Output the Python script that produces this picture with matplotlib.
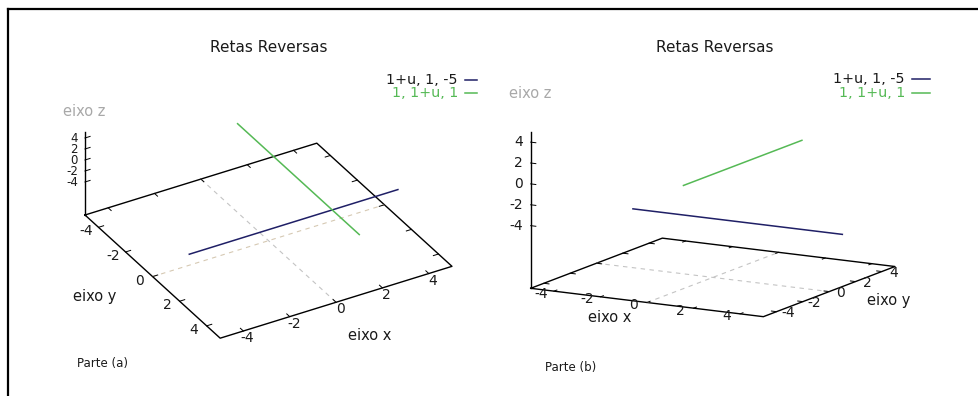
import numpy as np
import matplotlib
matplotlib.use("Agg")
import matplotlib.pyplot as plt
from matplotlib.lines import Line2D

plt.rcParams['font.family'] = ['DejaVu Sans']

# --- chart data (gnuplot style parametric lines) ---
TITLE = "Retas Reversas"
X_RANGE = (-5, 5)
Y_RANGE = (-5, 5)
Z_RANGE = (-5, 5)
TICSLEVEL = 0.5
X_TICKS = [-4, -2, 0, 2, 4]
Y_TICKS = [-4, -2, 0, 2, 4]
Z_TICKS = [-4, -2, 0, 2, 4]
U_RANGE = (-5, 5)

# line = point + u * direction
LINE1_LABEL = "1+u, 1, -5"
LINE1_POINT = [1, 1, -5]
LINE1_DIR = [1, 0, 0]
LINE2_LABEL = "1, 1+u, 1"
LINE2_POINT = [1, 1, 1]
LINE2_DIR = [0, 1, 0]

PANEL_NAMES = ["Parte (a)", "Parte (b)"]

# --- styling ---
W, H = 979, 396
BLUE = "#1f1f66"
GREEN = "#55b955"
ZERO_GRAY = "#c4c4c4"
ZERO_TAN = "#d6c9b3"
LABEL_GRAY = "#a8a8a8"
TXT = "#1a1a1a"

# per panel: view, box aspect, where the base corners land (px), label offsets
PANELS = [
    dict(elev=-32.1, azim=-59.75, aspect=(1, 1, 0.363),
         anchor_px=(85, 215), far_px=(451.7, 268.3),
         x_edge="y1", x_off=(-0.12, 0.5), y_edge="x0", y_off=(-0.55, 0.0),
         z_off=(-0.23, -0.13), z_size=8.5, y0_color=ZERO_TAN,
         title=(269, 48), legend=(458, 465, 477, 80, 93),
         zlab=(84.5, 112), xlab=(369.5, 335), ylab=(94.5, 297), part=(77, 363)),
    dict(elev=12.45, azim=-60.5, aspect=(1, 1, 0.6),
         anchor_px=(530.7, 288.3), far_px=(895, 266.7),
         x_edge="y0", x_off=(-0.21, -0.62), y_edge="x1", y_off=(0.49, 0.02),
         z_off=(-0.26, -0.15), z_size=10, y0_color=ZERO_GRAY,
         title=(715, 48), legend=(905, 912, 930, 79, 93),
         zlab=(530, 94), xlab=(610, 318), ylab=(888.5, 301), part=(545, 367)),
]


def clipped_segment(point, direction):
    lo, hi = U_RANGE
    p = np.array(point, float)
    d = np.array(direction, float)
    for k, (a, b) in enumerate([X_RANGE, Y_RANGE, Z_RANGE]):
        if d[k] != 0:
            t1, t2 = sorted(((a - p[k]) / d[k], (b - p[k]) / d[k]))
            lo, hi = max(lo, t1), min(hi, t2)
    u = np.array([lo, hi])
    return p[:, None] + d[:, None] * u


def to_px(ax, pt):
    v = ax.get_proj() @ np.array([pt[0], pt[1], pt[2], 1.0])
    return ax.transData.transform((v[0] / v[3], v[1] / v[3]))


def ftext(x, y, s, **kw):
    kw.setdefault("ha", "center")
    kw.setdefault("va", "center")
    fig.text(x / W, 1 - y / H, s, **kw)


def fline(xs, ys, **kw):
    fig.add_artist(Line2D([x / W for x in xs], [1 - y / H for y in ys],
                          transform=fig.transFigure, **kw))


fig = plt.figure(figsize=(W / 100, H / 100), dpi=100)
fig.patch.set_facecolor("white")

x0, x1 = X_RANGE
y0, y1 = Y_RANGE
z0, z1 = Z_RANGE
zb = z0 - TICSLEVEL * (z1 - z0)
seg1 = clipped_segment(LINE1_POINT, LINE1_DIR)
seg2 = clipped_segment(LINE2_POINT, LINE2_DIR)
tk = 0.22

for i, p in enumerate(PANELS):
    ax = fig.add_axes([i * 0.5, 0, 0.5, 1], projection="3d",
                      proj_type="ortho", computed_zorder=False)
    ax.set_axis_off()
    ax.set_facecolor("none")
    ax.view_init(elev=p["elev"], azim=p["azim"])
    ax.set_xlim(x0, x1)
    ax.set_ylim(y0, y1)
    ax.set_zlim(zb, z1)

    kw = dict(color="black", lw=1.0, clip_on=False)
    # base frame and z axis
    ax.plot([x0, x1, x1, x0, x0], [y0, y0, y1, y1, y0], [zb] * 5, **kw)
    ax.plot([x0, x0], [y0, y0], [zb, z1], **kw)
    # zero axes on the base
    ax.plot([0, 0], [y0, y1], [zb, zb], color=ZERO_GRAY, lw=0.8,
            ls=(0, (4, 4)), clip_on=False)
    ax.plot([x0, x1], [0, 0], [zb, zb], color=p["y0_color"], lw=0.8,
            ls=(0, (4, 4)), clip_on=False)

    # tics (with mirrors)
    tkw = dict(color="black", lw=0.7, clip_on=False)
    for t in X_TICKS:
        ax.plot([t, t], [y0, y0 + tk], [zb, zb], **tkw)
        ax.plot([t, t], [y1, y1 - tk], [zb, zb], **tkw)
    for t in Y_TICKS:
        ax.plot([x0, x0 + tk], [t, t], [zb, zb], **tkw)
        ax.plot([x1, x1 - tk], [t, t], [zb, zb], **tkw)
    for t in Z_TICKS:
        ax.plot([x0, x0 + tk], [y0, y0], [t, t], **tkw)

    # the two lines
    ax.plot(*seg1, color=BLUE, lw=1.1, clip_on=False)
    ax.plot(*seg2, color=GREEN, lw=1.1, clip_on=False)

    # fit the drawn box onto its place in the picture
    ax.set_box_aspect(p["aspect"], zoom=1)
    fig.canvas.draw()
    ta = np.array([p["anchor_px"][0], H - p["anchor_px"][1]])
    tb = np.array([p["far_px"][0], H - p["far_px"][1]])
    a = to_px(ax, (x0, y0, zb))
    b = to_px(ax, (x1, y1, zb))
    zoom = np.linalg.norm(tb - ta) / np.linalg.norm(b - a)
    ax.set_box_aspect(p["aspect"], zoom=zoom)
    fig.canvas.draw()
    a = to_px(ax, (x0, y0, zb))
    pos = ax.get_position(original=True)
    d = ta - a
    ax.set_position([pos.x0 + d[0] / W, pos.y0 + d[1] / H, pos.width, pos.height])
    fig.canvas.draw()

    # tick labels, placed at the projected tic positions
    labels = []
    ykey = y1 if p["x_edge"] == "y1" else y0
    for t in X_TICKS:
        labels.append(((t + p["x_off"][0], ykey + p["x_off"][1], zb), t, "center", 10))
    xkey = x0 if p["y_edge"] == "x0" else x1
    for t in Y_TICKS:
        labels.append(((xkey + p["y_off"][0], t + p["y_off"][1], zb), t, "center", 10))
    for t in Z_TICKS:
        labels.append(((x0 + p["z_off"][0], y0 + p["z_off"][1], t), t, "right",
                       p["z_size"]))
    for pt, t, ha, fs in labels:
        px = to_px(ax, pt)
        fig.text(px[0] / W, px[1] / H, str(t), ha=ha, va="center",
                 fontsize=fs, color=TXT)

    # texts
    ftext(*p["title"], TITLE, fontsize=11, color=TXT)
    lx_txt, lx0, lx1, ly1, ly2 = p["legend"]
    ftext(lx_txt, ly1, LINE1_LABEL, ha="right", fontsize=10.3, color=TXT)
    ftext(lx_txt, ly2, LINE2_LABEL, ha="right", fontsize=10.3, color=GREEN)
    fline([lx0, lx1], [ly1, ly1], color=BLUE, lw=1.1)
    fline([lx0, lx1], [ly2, ly2], color=GREEN, lw=1.1)
    ftext(*p["zlab"], "eixo z", fontsize=10.5, color=LABEL_GRAY)
    ftext(*p["xlab"], "eixo x", fontsize=10.5, color=TXT)
    ftext(*p["ylab"], "eixo y", fontsize=10.5, color=TXT)
    ftext(*p["part"], PANEL_NAMES[i], ha="left", fontsize=8.5, color=TXT)

# outer frame (top and left edges visible)
fline([8, W], [9, 9], color="black", lw=1.6)
fline([8, 8], [9, H], color="black", lw=1.6)

fig.savefig("out.png", dpi=100)
